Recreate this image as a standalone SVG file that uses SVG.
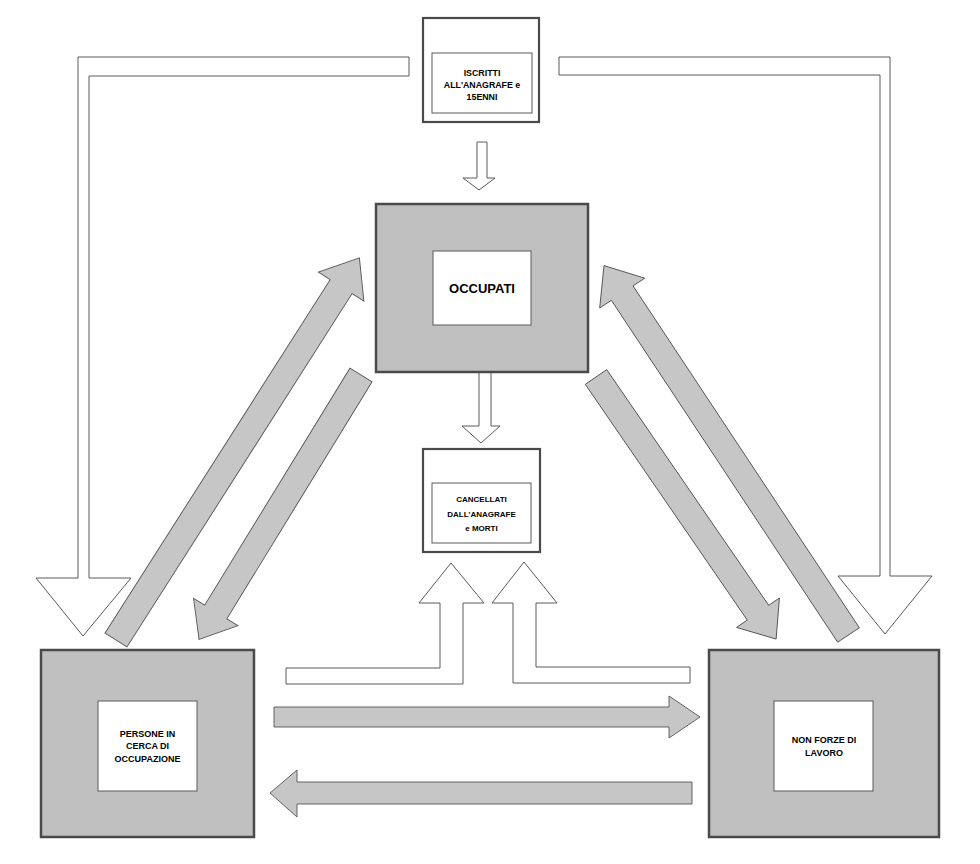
<svg xmlns="http://www.w3.org/2000/svg" width="980" height="864" viewBox="0 0 980 864">
<style>
.outerG{fill:#c0c0c0;stroke:#4a4a4a;stroke-width:2.5}
.outerW{fill:#ffffff;stroke:#4a4a4a;stroke-width:2.2}
.inner{fill:#ffffff;stroke:#5a5a5a;stroke-width:1}
.wa{fill:#ffffff;stroke:#5a5a5a;stroke-width:1}
.ga{fill:#c6c6c6;stroke:#555555;stroke-width:0.9}
.t{font-family:"Liberation Sans",Arial,sans-serif;font-weight:bold;fill:#000;text-anchor:middle}
</style>
<rect width="980" height="864" fill="#ffffff"/>
<g id="connectors">
  <!-- white bent arrows from top -->
  <path class="wa" d="M409,57 L78,57 L78,578 L36,578 L83,636 L131,578 L89,578 L89,76 L409,76 Z"/>
  <path class="wa" d="M559,57 L890,57 L890,576 L932,576 L885,634 L838,576 L880,576 L880,75 L559,75 Z"/>
  <!-- small down arrows -->
  <path class="wa" d="M477,142 L487,142 L487,178 L495,178 L479,190 L463,178 L477,178 Z"/>
  <path class="wa" d="M479,372 L491,372 L491,426 L500,426 L481,443 L462,426 L479,426 Z"/>
  <!-- bottom white bent arrows up to CANCELLATI -->
  <path class="wa" d="M286,668 L440,668 L440,603 L419,603 L451,563 L484,603 L463,603 L463,684 L286,684 Z"/>
  <path class="wa" d="M690,667 L536,667 L536,603 L557,603 L524,562 L492,603 L513,603 L513,683 L690,683 Z"/>
  <!-- gray horizontal arrows -->
  <path class="ga" d="M274,707 L669,707 L669,696 L700,717 L669,738 L669,727 L274,727 Z"/>
  <path class="ga" d="M692,782 L297,782 L297,770 L270,793 L297,817 L297,804 L692,804 Z"/>
  <!-- gray diagonal arrows -->
  <path class="ga" transform="translate(116,640) rotate(-57.5)" d="M0,-13 L419,-13 L419,-27 L453,0 L419,27 L419,13 L0,13 Z"/>
  <path class="ga" transform="translate(361,375) rotate(121.5)" d="M0,-13 L278,-13 L278,-26 L310,0 L278,26 L278,13 L0,13 Z"/>
  <path class="ga" transform="translate(848.5,635) rotate(-123.5)" d="M0,-13 L410,-13 L410,-27 L443,0 L410,27 L410,13 L0,13 Z"/>
  <path class="ga" transform="translate(596,377) rotate(55.5)" d="M0,-13 L286,-13 L286,-26 L318,0 L286,26 L286,13 L0,13 Z"/>
</g>
<g id="iscritti">
  <rect class="outerW" x="423" y="18" width="116" height="104"/>
  <rect class="inner" x="432" y="53" width="100" height="60"/>
  <text class="t" font-size="8.8" x="482" y="76">ISCRITTI</text>
  <text class="t" font-size="8.8" x="482" y="88">ALL'ANAGRAFE e</text>
  <text class="t" font-size="8.8" x="482" y="100">15ENNI</text>
</g>
<g id="occupati">
  <rect class="outerG" x="376" y="204" width="212" height="168"/>
  <rect class="inner" x="433" y="251" width="98" height="74"/>
  <text class="t" font-size="13" x="482" y="293">OCCUPATI</text>
</g>
<g id="cancellati">
  <rect class="outerW" x="423" y="449" width="117" height="103"/>
  <rect class="inner" x="432" y="483" width="99" height="60"/>
  <text class="t" font-size="8" x="481.5" y="502">CANCELLATI</text>
  <text class="t" font-size="8" x="481.5" y="516.5">DALL'ANAGRAFE</text>
  <text class="t" font-size="8" x="481.5" y="530.5">e MORTI</text>
</g>
<g id="persone">
  <rect class="outerG" x="41" y="650" width="213" height="187"/>
  <rect class="inner" x="98" y="701" width="99" height="90"/>
  <text class="t" font-size="9" x="147.5" y="736.5">PERSONE IN</text>
  <text class="t" font-size="9" x="147.5" y="749.3">CERCA DI</text>
  <text class="t" font-size="9" x="147.5" y="762.2">OCCUPAZIONE</text>
</g>
<g id="nonforze">
  <rect class="outerG" x="709" y="650" width="230" height="187"/>
  <rect class="inner" x="774" y="701" width="99" height="90"/>
  <text class="t" font-size="9" x="824" y="743.3">NON FORZE DI</text>
  <text class="t" font-size="9" x="824" y="756">LAVORO</text>
</g>
</svg>
